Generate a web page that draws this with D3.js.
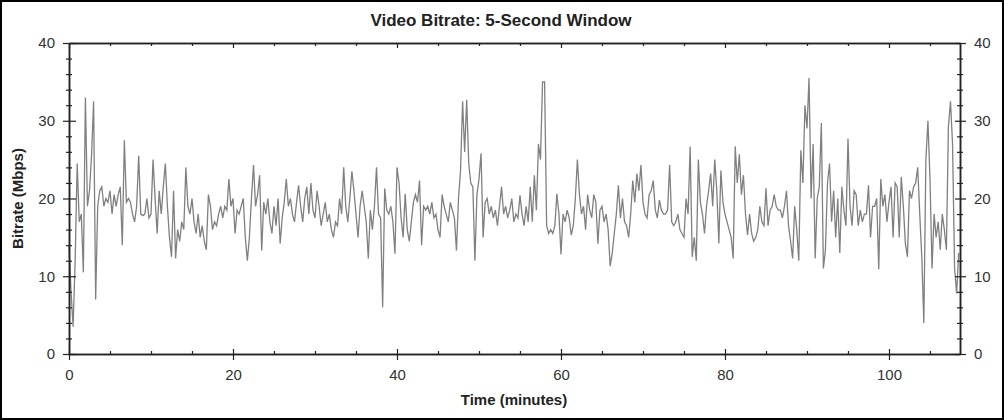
<!DOCTYPE html>
<html><head><meta charset="utf-8">
<script src="https://cdn.jsdelivr.net/npm/d3@7"></script>
<style>body{margin:0;background:#fff}svg{display:block}</style>
</head><body><svg id="c" width="1004" height="420"></svg>
<script>
const title = "Video Bitrate: 5-Second Window";
const xLabel = "Time (minutes)";
const yLabel = "Bitrate (Mbps)";
const xTicks = [0, 20, 40, 60, 80, 100];
const xMinorTicks = [5,10,15,25,30,35,45,50,55,65,70,75,85,90,95,105];
const yTicks = [0, 10, 20, 30, 40];
const yMinorTicks = [2,4,6,8,12,14,16,18,22,24,26,28,32,34,36,38];
const xMax = 108.66;
const sampleStepMin = 0.25;
const bitrate = [
14,8,3.5,12, 24.5,17,18,10.5, 33,19,21,25.5, 32.5,7,19,21, 21.5,19,20,19.5,
21,18,20.5,19, 20.5,21.5,14,27.5, 19.5,20,19.5,18, 17,19,25.5,18, 17.8,18,20,17.5,
18,25,20,15.5, 21,18,21.5,24.5, 19,15,12.5,21, 12.3,16,14.5,17, 16,24,19,18,
20,17,15.5,18, 15,16.5,14.5,13.4, 20.5,19,16,17, 16.5,18,19,17.5, 19,18.5,22.5,19,
20,15.5,18.5,18, 19,20,15,12, 15,20,24.3,19, 20.5,23,13.3,19.5, 18,20,17,15.5,
19,16.5,20,14.2, 17.5,19.5,22.5,19, 20,18,17,19.5, 21.7,19,17,20, 21.5,18,22,18.5,
17.5,21,19,16.5, 18,19.5,17,18, 16,15,17,16.5, 20,18,24,19, 17,20,23.5,21,
18,15,19,21, 19,17,12.3,18.5, 16,19,24,18, 17.5,6,21.3,18.5, 18,19,17,12.9,
24,22,17.5,15, 20.6,16,14.5,17, 19.5,20.5,19.5,22.3, 14,19,18.5,19, 18,19.5,17.5,18,
16,15,20.5,19, 18,17,19.5,18.5, 17.5,13.3,20,23.6, 32.5,26,32.7,24.5, 22,21.5,12,20.5,
22.5,25.8,15,19.5, 20,18,19,17.5, 18.5,16.5,19,21.5, 18,19,17.5,18.5, 20,17,18,17.5,
20.4,18,16.5,19, 17,21.5,17,23, 18.5,27,25,35, 35,16.5,15.5,16, 15.5,16.5,20.6,18,
12.8,18,17,18.5, 17.5,15.3,16.5,20, 25,20.5,18,19, 16,20.5,18.5,17.5, 20.5,19.5,14.2,18.5,
19,17,18,16, 11.3,13,15.5,18, 21.7,17.5,20,17, 16.5,15,18,22.3, 19.5,23.2,21,24.3,
19.5,18,17.5,20.5, 21,22.3,18.5,17.5, 19.8,18.5,18,18, 18.5,24.3,17,16.5, 17,18,16,15.5,
15,20,18,26.7, 12.5,15,12,25, 19.5,18,15.5,19, 21,23.2,19,25, 21,14.2,23.6,19.5,
18,17,16,15, 12.3,26.7,22,25.7, 20.5,23,18,15.3, 18,15.5,14.5,15, 16,19,17,16.5,
21.3,16.5,18.5,19, 20.5,19,18.5,18.5, 17.5,19,21,16.5, 14.5,12.3,19,16, 12,26.2,22,32,
29,35.5,20,27, 12.3,20,21.5,29.7, 11,13.4,22,24.5, 17,21,15,20, 13,21.5,18.5,16.5,
27.7,19,16.5,21, 20.5,16.5,18.5,17, 18,18,21.7,15, 19,19,20,10.9, 22.5,19,20.5,17,
19.5,21.5,15,22, 21.5,15,22.8,19, 14.2,12.5,21,20, 21.5,22,24,18, 12.5,4,25,30,
22.5,11,18,15, 17,13.4,18,16, 13.4,29.3,32.5,27, 11,7.8,13
];

const W = 1004, H = 420;
const L = 69, R = 960, T = 43, B = 354;
const svg = d3.select("#c");
const font = "Arial, 'Liberation Sans', sans-serif";

svg.append("rect").attr("x", 0).attr("y", 0).attr("width", W).attr("height", H).attr("fill", "#fff");
svg.append("rect").attr("x", 1).attr("y", 1).attr("width", W - 2).attr("height", H - 2)
  .attr("fill", "none").attr("stroke", "#000").attr("stroke-width", 2);

const x = d3.scaleLinear().domain([0, xMax]).range([L, R]);
const y = d3.scaleLinear().domain([0, 40]).range([B, T]);

// data line
const line = d3.line().x((d, i) => x(i * sampleStepMin)).y(d => y(d));
svg.append("path").datum(bitrate).attr("d", line)
  .attr("fill", "none").attr("stroke", "#808080").attr("stroke-width", 1.3)
  .attr("stroke-linejoin", "miter");

function styleAxis(g) {
  g.selectAll(".domain").attr("stroke", "#222").attr("stroke-width", 1.5);
  g.selectAll(".tick line").attr("stroke", "#222").attr("stroke-width", 1.2);
  g.selectAll(".tick text").attr("font-family", font).attr("font-size", 15).attr("fill", "#333");
}

// bottom axis
const gb = svg.append("g").attr("transform", `translate(0,${B})`)
  .call(d3.axisBottom(x).tickValues(xTicks).tickFormat(d3.format("d")).tickSizeOuter(0).tickSizeInner(6).tickPadding(9));
gb.selectAll(".tick line").attr("y1", -5);
styleAxis(gb);
const gbm = svg.append("g").attr("transform", `translate(0,${B})`)
  .call(d3.axisBottom(x).tickValues(xMinorTicks).tickFormat("").tickSizeOuter(0).tickSizeInner(-3));
styleAxis(gbm);

// top axis
const gt = svg.append("g").attr("transform", `translate(0,${T})`)
  .call(d3.axisTop(x).tickValues(xTicks).tickFormat("").tickSizeOuter(0).tickSizeInner(-5));
styleAxis(gt);
const gtm = svg.append("g").attr("transform", `translate(0,${T})`)
  .call(d3.axisTop(x).tickValues(xMinorTicks).tickFormat("").tickSizeOuter(0).tickSizeInner(-3));
styleAxis(gtm);

// left axis
const gl = svg.append("g").attr("transform", `translate(${L},0)`)
  .call(d3.axisLeft(y).tickValues(yTicks).tickFormat(d3.format("d")).tickSizeOuter(0).tickSizeInner(6).tickPadding(8));
gl.selectAll(".tick line").attr("x1", 7);
styleAxis(gl);
const glm = svg.append("g").attr("transform", `translate(${L},0)`)
  .call(d3.axisLeft(y).tickValues(yMinorTicks).tickFormat("").tickSizeOuter(0).tickSizeInner(3));
glm.selectAll(".tick line").attr("x1", 3);
styleAxis(glm);

// right axis
const gr = svg.append("g").attr("transform", `translate(${R},0)`)
  .call(d3.axisRight(y).tickValues(yTicks).tickFormat(d3.format("d")).tickSizeOuter(0).tickSizeInner(6).tickPadding(8));
gr.selectAll(".tick line").attr("x1", -5);
styleAxis(gr);
const grm = svg.append("g").attr("transform", `translate(${R},0)`)
  .call(d3.axisRight(y).tickValues(yMinorTicks).tickFormat("").tickSizeOuter(0).tickSizeInner(3));
grm.selectAll(".tick line").attr("x1", -3);
styleAxis(grm);

// labels
svg.append("text").attr("x", 501).attr("y", 26).attr("text-anchor", "middle")
  .attr("font-family", font).attr("font-weight", "bold").attr("font-size", 17).attr("fill", "#222").text(title);
svg.append("text").attr("x", 514).attr("y", 405).attr("text-anchor", "middle")
  .attr("font-family", font).attr("font-weight", "bold").attr("font-size", 15).attr("fill", "#222").text(xLabel);
svg.append("text").attr("transform", `translate(23,${(T + B) / 2}) rotate(-90)`).attr("text-anchor", "middle")
  .attr("font-family", font).attr("font-weight", "bold").attr("font-size", 15).attr("fill", "#222").text(yLabel);
</script></body></html>
